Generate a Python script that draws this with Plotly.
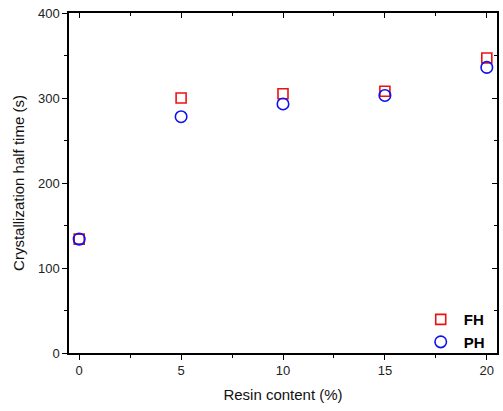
import plotly.graph_objects as go

resin_content = [0, 5, 10, 15, 20]
fh_half_time = [134, 300, 305, 308, 347]
ph_half_time = [134, 278, 293, 303, 336]

x_ticks = [0, 5, 10, 15, 20]
y_ticks = [0, 100, 200, 300, 400]

fig = go.Figure()
fig.add_trace(go.Scatter(
    x=resin_content, y=fh_half_time, mode="markers", name="FH",
    marker=dict(symbol="square-open", size=10, color="#ee1111", line=dict(width=1.6)),
))
fig.add_trace(go.Scatter(
    x=resin_content, y=ph_half_time, mode="markers", name="PH",
    marker=dict(symbol="circle-open", size=11.5, color="#1111ee", line=dict(width=1.6)),
))

family = "Liberation Sans, Arial, sans-serif"

axis_common = dict(showgrid=False, zeroline=False, showline=True, linecolor="black",
                   linewidth=1.5, ticklen=5, tickwidth=1.3, tickcolor="black")

fig.update_layout(
    width=503, height=411,
    margin=dict(l=69, r=6, t=9, b=58),
    paper_bgcolor="white", plot_bgcolor="white",
    font=dict(family=family, size=13, color="#222"),
    showlegend=True,
    legend=dict(x=0.983, y=-0.015, xanchor="right", yanchor="bottom",
                bgcolor="rgba(0,0,0,0)", font=dict(size=15, color="black", family=family, weight="bold"),
                itemwidth=36, tracegroupgap=0),
    xaxis=dict(range=[-0.5, 20.5], tickvals=x_ticks, ticks="outside",
               minor=dict(dtick=2.5, ticks="outside", ticklen=3, tickcolor="black"),
               title=dict(text="Resin content (%)", font=dict(size=15, color="#111"), standoff=12),
               **axis_common),
    yaxis=dict(range=[0, 400], tickvals=y_ticks, ticks="outside",
               minor=dict(dtick=50, ticks="outside", ticklen=3, tickcolor="black"),
               title=dict(text="Crystallization half time (s)", font=dict(size=15, color="#111"), standoff=10),
               **axis_common),
    xaxis2=dict(range=[-0.5, 20.5], overlaying="x", side="top", tickvals=x_ticks, ticks="inside",
                showticklabels=False, minor=dict(dtick=2.5, ticks="inside", ticklen=3, tickcolor="black"),
                **axis_common),
    yaxis2=dict(range=[0, 400], overlaying="y", side="right", tickvals=y_ticks, ticks="inside",
                showticklabels=False, minor=dict(dtick=50, ticks="inside", ticklen=3, tickcolor="black"),
                **axis_common),
)
# invisible trace to activate the mirror axes
fig.add_trace(go.Scatter(x=[None], y=[None], xaxis="x2", yaxis="y2", showlegend=False, hoverinfo="skip"))

fig.write_html("out.html", config={"displayModeBar": False},
               post_script="document.body.style.margin='0';document.body.style.padding='0';")
